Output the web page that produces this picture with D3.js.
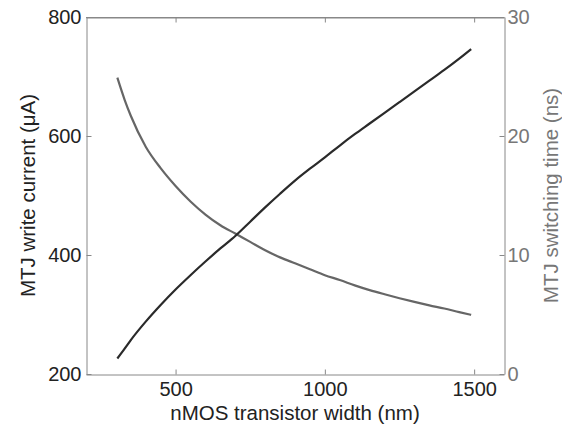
<!DOCTYPE html>
<html><head><meta charset="utf-8">
<script src="https://cdn.jsdelivr.net/npm/d3@7"></script>
<style>body{margin:0;background:#fff;}svg{display:block;font-family:"Liberation Sans",Arial,sans-serif;}</style>
</head><body><svg id="c" width="562" height="425"></svg>
<script>
const widthNm = [305,330,350,400,450,500,550,600,650,700,750,800,850,900,950,1000,1050,1100,1150,1200,1250,1300,1350,1400,1450,1490];
const writeCurrent = [226,243,257,288,316,342,366,389,411,432,456,480,503,525,545,564,584,603,621,639,657,675,693,711,730,746];
const switchTime = [24.9,23.0,21.7,19.1,17.3,15.8,14.5,13.4,12.5,11.8,11.1,10.4,9.8,9.3,8.8,8.3,7.9,7.45,7.05,6.7,6.37,6.06,5.77,5.5,5.2,4.97];
const xTicks = [500,1000,1500];
const yLeftTicks = [200,400,600,800];
const yRightTicks = [0,10,20,30];

const svg = d3.select("#c");
const L=86,R=504,T=17,B=374;
const x = d3.scaleLinear().domain([200,1600]).range([L,R]);
const yL = d3.scaleLinear().domain([200,800]).range([B,T]);
const yR = d3.scaleLinear().domain([0,30]).range([B,T]);
const axisCol="#888";
const fs = 20;

svg.append("line").attr("x1",L).attr("x2",R).attr("y1",T+0.5).attr("y2",T+0.5).attr("stroke",axisCol);

const gx = svg.append("g").attr("transform",`translate(0,${B+0.5})`)
  .call(d3.axisBottom(x).tickValues(xTicks).tickFormat(d3.format("d")).tickSizeInner(-5).tickSizeOuter(0).tickPadding(7));
const gxt = svg.append("g").attr("transform",`translate(0,${T+0.5})`)
  .call(d3.axisTop(x).tickValues(xTicks).tickSizeInner(-5).tickSizeOuter(0).tickFormat(""));
const gl = svg.append("g").attr("transform",`translate(${L+0.5},0)`)
  .call(d3.axisLeft(yL).tickValues(yLeftTicks).tickFormat(d3.format("d")).tickSizeInner(-5).tickSizeOuter(0).tickPadding(5));
const gr = svg.append("g").attr("transform",`translate(${R+0.5},0)`)
  .call(d3.axisRight(yR).tickValues(yRightTicks).tickFormat(d3.format("d")).tickSizeInner(-5).tickSizeOuter(0).tickPadding(3));

[gx,gxt,gl,gr].forEach(g=>{
  g.select(".domain").attr("stroke",axisCol);
  g.selectAll(".tick line").attr("stroke",axisCol);
  g.selectAll("text").attr("font-size",fs).attr("font-family","Liberation Sans, Arial, sans-serif");
});
gx.selectAll("text").attr("fill","#222");
gl.selectAll("text").attr("fill","#222");
gr.selectAll("text").attr("fill","#777");

const lineL = d3.line().curve(d3.curveMonotoneX).x((d,i)=>x(widthNm[i])).y(d=>yL(d));
const lineR = d3.line().curve(d3.curveMonotoneX).x((d,i)=>x(widthNm[i])).y(d=>yR(d));
svg.append("path").datum(switchTime).attr("d",lineR).attr("fill","none").attr("stroke","#666").attr("stroke-width",2.2);
svg.append("path").datum(writeCurrent).attr("d",lineL).attr("fill","none").attr("stroke","#2a2a2a").attr("stroke-width",2.2);

svg.append("text").attr("x",(L+R)/2).attr("y",420).attr("text-anchor","middle")
  .attr("font-size",fs+0.5).attr("fill","#222").text("nMOS transistor width (nm)");
svg.append("text").attr("transform",`translate(35,${(T+B)/2}) rotate(-90)`).attr("text-anchor","middle")
  .attr("font-size",fs+0.5).attr("fill","#222").text("MTJ write current (\u03bcA)");
svg.append("text").attr("transform",`translate(558,${(T+B)/2}) rotate(-90)`).attr("text-anchor","middle")
  .attr("font-size",fs+0.5).attr("fill","#777").text("MTJ switching time (ns)");
</script></body></html>
